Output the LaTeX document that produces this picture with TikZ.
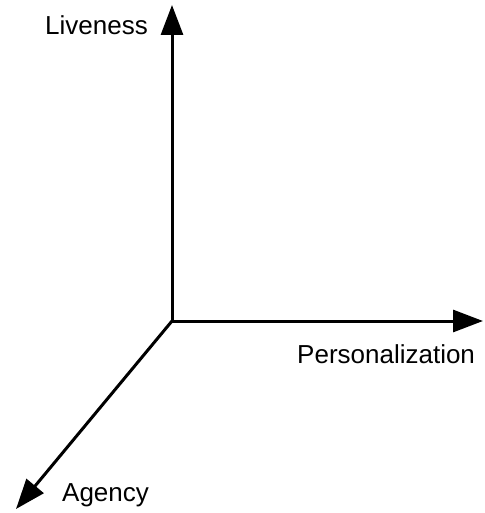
\documentclass[tikz,border=0pt]{standalone}
\usepackage{fontspec}
\setmainfont{Liberation Sans}
\usetikzlibrary{arrows.meta}
\begin{document}
\begin{tikzpicture}[x=1bp,y=-1bp,
  axis/.style={line width=3bp,-{Triangle[length=30bp,width=22bp]}},
  lbl/.style={inner sep=0pt,font=\fontsize{26bp}{30bp}\selectfont}]
\useasboundingbox (0,0) rectangle (485,513);
% origin of the three axes and their free ends
\coordinate (o) at (172,321);
\coordinate (up) at (172,5);
\coordinate (right) at (483,321);
\coordinate (down) at (16,509);
\draw[axis] (o) -- (up);
\draw[axis] (o) -- (right);
\draw[axis] (o) -- (down);
% axis labels
\node[lbl,anchor=base west] (live) at (45,35) {Liveness};
\node[lbl,anchor=base west] (pers) at (297,363) {Personalization};
\node[lbl,anchor=base west] (agen) at (62,501) {Agency};
\end{tikzpicture}
\end{document}
